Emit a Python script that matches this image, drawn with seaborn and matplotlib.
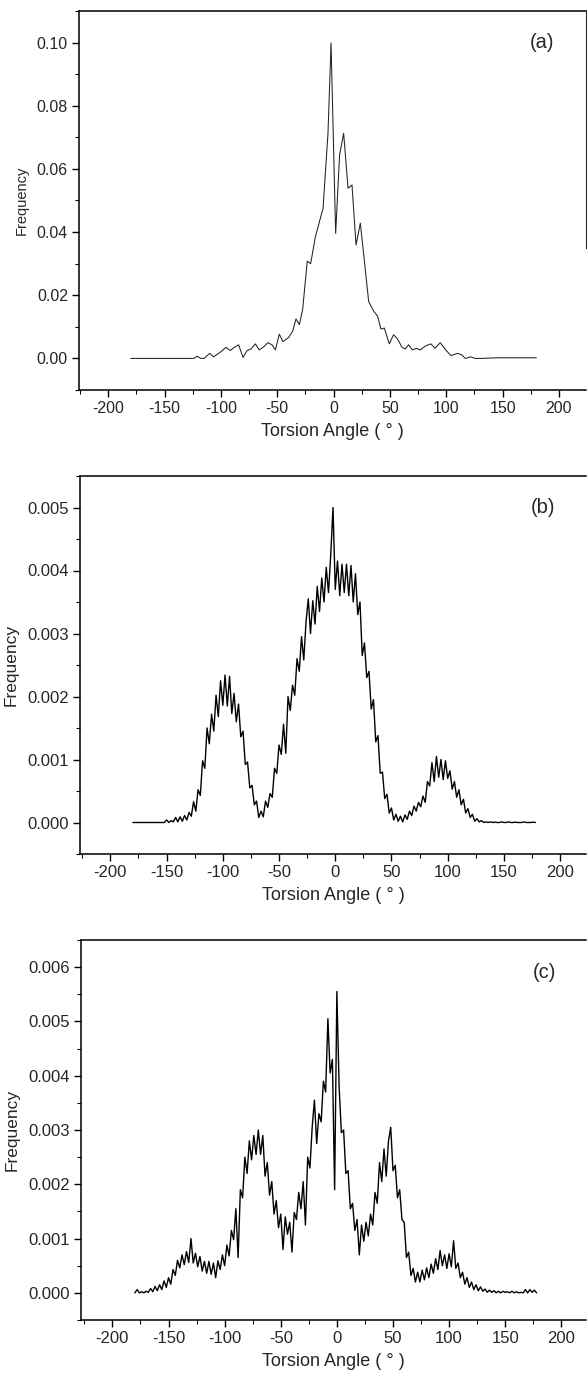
import numpy as np
import matplotlib
matplotlib.use("Agg")
import matplotlib.pyplot as plt
from matplotlib.ticker import MultipleLocator, AutoMinorLocator, FormatStrFormatter
import seaborn as sns

# ---------------- data ----------------
# Panel (a): torsion-angle histogram (degrees, frequency)
angle_a = [-180, -124, -121, -118, -115, -110, -106.6, -100.5, -95.5, -91.6,
           -88.7, -84.3, -80.4, -76.8, -73.3, -69.5, -66, -62, -58.2, -54.7,
           -51.7, -48.2, -45, -40, -36.4, -33.4, -30.4, -27.5, -23.4, -20.4,
           -16.2, -9.4, -5.0, -2.3, 1.8, 5.3, 8.9, 12.8, 16.3, 19.9,
           23.7, 26.6, 31.1, 35.5, 39, 42, 45, 49.4, 53.2, 56.8,
           60.7, 63.6, 66.5, 70, 73.3, 76.8, 81.8, 86.3, 90, 94.6,
           99, 104, 110, 113.8, 116.8, 121.8, 125.6, 130, 145, 180]
freq_a = [0, 0, 0.0007, 0, 0, 0.0016, 0.0005, 0.002, 0.0035, 0.0025,
          0.0034, 0.0043, 0.0003, 0.0025, 0.003, 0.0046, 0.0027, 0.0037, 0.005, 0.0043,
          0.0027, 0.0077, 0.0053, 0.0066, 0.0086, 0.0125, 0.0107, 0.0155, 0.0308, 0.0300,
          0.0385, 0.0475, 0.0713, 0.0999, 0.0396, 0.0644, 0.0713, 0.0539, 0.0549, 0.0359,
          0.0428, 0.0332, 0.018, 0.015, 0.0134, 0.0093, 0.0096, 0.0046, 0.0075, 0.0061,
          0.0035, 0.003, 0.0043, 0.0027, 0.0032, 0.0027, 0.004, 0.0046, 0.0032, 0.005,
          0.0029, 0.0009, 0.0016, 0.0011, 0, 0.0005, 0, 0, 0.0002, 0.0002]

# Panels (b) and (c): sampled every 2 degrees from -180 to 178
angle_bc = np.arange(-180, 180, 2)

# frequency in units of 1e-4
freq_b_e4 = [
    0, 0, 0, 0, 0, 0, 0, 0, 0, 0,                               # -180..-162
    0, 0, 0, 0, 0, 0.4, 0, 0.3, 0.1, 0.8,                       # -160..-142
    0.1, 0.9, 0.2, 1.1, 0.4, 1.6, 1.0, 3.3, 1.8, 5.2,           # -140..-122
    4.3, 9.8, 8.6, 15.0, 12.5, 17.2, 14.5, 20.2, 16.8, 22.5,    # -120..-102
    18.6, 23.4, 18.5, 23.2, 17.3, 20.5, 16.0, 18.8, 13.6, 14.5, # -100..-82
    9.2, 9.6, 5.5, 5.9, 2.8, 3.4, 0.8, 1.8, 0.9, 3.4,           # -80..-62
    2.4, 4.6, 4.0, 8.6, 7.8, 12.3, 10.8, 15.6, 11.0, 20.0,      # -60..-42
    17.8, 21.8, 20.2, 26.0, 24.0, 29.5, 25.8, 31.8, 35.5, 30.0, # -40..-22
    35.2, 31.5, 37.5, 33.5, 38.8, 35.0, 40.5, 36.5, 42.5, 50.0, # -20..-2
    37.0, 41.5, 36.0, 41.0, 36.5, 41.0, 36.0, 40.8, 35.0, 39.5, # 0..18
    33.0, 35.0, 26.5, 28.5, 23.0, 24.0, 18.0, 19.5, 12.8, 13.8, # 20..38
    7.8, 8.0, 3.8, 4.5, 1.5, 2.3, 0.4, 1.3, 0.2, 1.0,           # 40..58
    0.1, 1.2, 0.5, 1.8, 1.1, 2.6, 1.8, 3.2, 2.5, 4.2,           # 60..78
    3.2, 6.5, 5.8, 9.5, 6.5, 10.5, 7.2, 10.0, 6.8, 9.8,         # 80..98
    7.0, 8.2, 5.3, 6.5, 4.0, 5.2, 2.8, 3.7, 1.5, 2.2,           # 100..118
    0.8, 1.3, 0.2, 0.6, 0.1, 0.3, 0, 0.1, 0, 0.1,               # 120..138
    0, 0.05, 0, 0, 0.1, 0, 0, 0.1, 0, 0,                        # 140..158
    0.05, 0, 0, 0, 0.1, 0, 0, 0, 0.05, 0,                       # 160..178
]
freq_c_e4 = [
    0, 0.6, 0, 0.2, 0, 0.3, 0.1, 0.8, 0.2, 1.2,                 # -180..-162
    0.4, 1.5, 0.6, 2.2, 1.0, 2.8, 1.6, 4.3, 3.2, 6.0,           # -160..-142
    4.6, 7.0, 5.2, 7.6, 5.6, 10.0, 5.5, 7.3, 4.8, 6.7,          # -140..-122
    4.0, 5.8, 3.6, 5.8, 3.4, 5.5, 2.8, 5.9, 4.3, 7.0,           # -120..-102
    5.0, 8.8, 6.8, 11.5, 9.8, 15.5, 6.5, 19.0, 17.5, 25.0,      # -100..-82
    22.0, 28.0, 24.5, 29.0, 25.5, 30.0, 25.5, 29.0, 21.5, 24.0, # -80..-62
    18.0, 20.5, 14.5, 17.0, 12.0, 14.5, 8.0, 14.0, 10.8, 13.0,  # -60..-42
    7.5, 14.8, 13.5, 18.5, 15.5, 20.5, 12.5, 25.0, 23.0, 30.5,  # -40..-22
    35.5, 27.5, 33.0, 31.5, 39.0, 37.0, 50.5, 40.5, 43.0, 19.0, # -20..-2
    55.5, 38.0, 29.5, 30.0, 22.0, 22.5, 15.5, 16.5, 11.5, 13.5, # 0..18
    7.0, 12.5, 9.5, 13.0, 10.5, 14.5, 12.5, 18.5, 16.5, 24.0,   # 20..38
    20.5, 26.5, 21.5, 28.0, 30.5, 22.5, 23.5, 17.5, 19.0, 13.5, # 40..58
    13.0, 6.5, 7.5, 3.2, 4.5, 2.0, 3.8, 2.0, 4.2, 2.4,          # 60..78
    4.6, 2.8, 5.3, 3.6, 6.3, 4.3, 7.8, 5.0, 7.0, 4.5,           # 80..98
    7.2, 4.8, 9.6, 4.5, 5.5, 2.8, 3.8, 1.6, 2.8, 1.0,           # 100..118
    2.0, 0.6, 1.5, 0.4, 1.1, 0.3, 0.7, 0.1, 0.5, 0.1,           # 120..138
    0.4, 0, 0.3, 0, 0.3, 0.1, 0.2, 0, 0.3, 0,                   # 140..158
    0.2, 0, 0.1, 0, 0.6, 0, 0.6, 0.1, 0.5, 0,                   # 160..178
]
freq_b = np.array(freq_b_e4) * 1e-4
freq_c = np.array(freq_c_e4) * 1e-4

panel_labels = ["(a)", "(b)", "(c)"]
x_label = "Torsion Angle ( \u00b0 )"
y_label = "Frequency"

# ---------------- style ----------------
sns.set_style("ticks")
plt.rcParams["font.family"] = ["Liberation Sans", "DejaVu Sans"]
plt.rcParams["axes.unicode_minus"] = False

W, H = 587, 1378
fig = plt.figure(figsize=(W / 100, H / 100), dpi=100)

def px_axes(left, top, right, bottom):
    return fig.add_axes([left / W, 1 - bottom / H, (right - left) / W, (bottom - top) / H])

ax_a = px_axes(79, 11, 586, 390)
ax_b = px_axes(80, 476, 586, 854)
ax_c = px_axes(81, 940, 586, 1320)

sns.lineplot(x=angle_a, y=freq_a, ax=ax_a, color="#222222", linewidth=0.75,
             estimator=None, sort=False)
sns.lineplot(x=angle_bc, y=freq_b, ax=ax_b, color="black", linewidth=1.0,
             estimator=None, sort=False)
sns.lineplot(x=angle_bc, y=freq_c, ax=ax_c, color="black", linewidth=1.0,
             estimator=None, sort=False)

cfg = [
    (ax_a, (-226, 224), (-0.01, 0.11), 0.02, "%.2f", 10.5, 0.10, 11.5),
    (ax_b, (-227, 223), (-0.0005, 0.0055), 0.001, "%.3f", 12.5, 0.005, 12),
    (ax_c, (-228, 222), (-0.0005, 0.0065), 0.001, "%.3f", 12.5, 0.0059, 12),
]
for (ax, xl, yl, ystep, fmt, ylab_size, lab_y, tsize), lab in zip(cfg, panel_labels):
    ax.set_xlim(*xl)
    ax.set_ylim(*yl)
    ax.xaxis.set_major_locator(MultipleLocator(50))
    ax.xaxis.set_minor_locator(MultipleLocator(25))
    ax.yaxis.set_major_locator(MultipleLocator(ystep))
    ax.yaxis.set_minor_locator(AutoMinorLocator(2))
    ax.yaxis.set_major_formatter(FormatStrFormatter(fmt))
    ax.tick_params(which="major", direction="out", length=5, width=1.0,
                   labelsize=tsize, pad=3, color="black")
    ax.tick_params(which="minor", direction="out", length=3, width=0.8, color="black")
    for s in ["left", "bottom", "top"]:
        ax.spines[s].set_linewidth(1.1)
        ax.spines[s].set_color("black")
    ax.spines["right"].set_visible(False)
    ax.set_xlabel(x_label, fontsize=13, labelpad=5)
    ax.set_ylabel(y_label, fontsize=ylab_size, labelpad=6)
    ax.text(185, lab_y, lab, fontsize=14.5, ha="center", va="center")

# partial right border visible in panel (a)
ax_a.spines["right"].set_visible(True)
ax_a.spines["right"].set_linewidth(0.8)
ax_a.spines["right"].set_bounds(0.035, 0.11)

fig.savefig("out.png", dpi=100)
